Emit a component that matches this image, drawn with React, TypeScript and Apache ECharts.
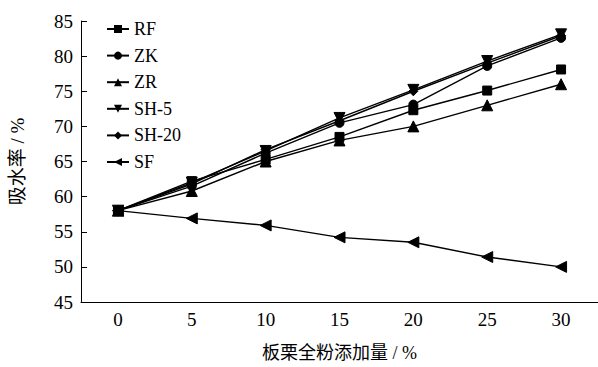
import React, { useEffect, useRef } from "react";
import * as echarts from "echarts";

const categories = ["0", "5", "10", "15", "20", "25", "30"];
const yTicks = { min: 45, max: 85, interval: 5 };
const seriesNames = ["RF", "ZK", "ZR", "SH-5", "SH-20", "SF"];
const rfValues = [58, 62.2, 65.3, 68.5, 72.3, 75.1, 78.1];
const zkValues = [58, 61.5, 66.2, 70.5, 73.1, 78.6, 82.6];
const zrValues = [58, 60.8, 65.0, 68.0, 70.0, 73.0, 76.0];
const sh5Values = [58, 62.0, 66.5, 71.2, 75.2, 79.3, 83.1];
const sh20Values = [58, 61.8, 66.7, 70.8, 75.0, 79.0, 82.9];
const sfValues = [58, 56.9, 55.9, 54.2, 53.5, 51.4, 50.0];

const FONT = "Liberation Serif, Noto Sans CJK SC, serif";

export default function App() {
  const ref = useRef<HTMLDivElement>(null);
  useEffect(() => {
    document.body.style.margin = "0";
    if (!ref.current) return;
    const chart = echarts.init(ref.current, undefined, { renderer: "svg" });
    const values = [rfValues, zkValues, zrValues, sh5Values, sh20Values, sfValues];
    const symbols = [
      { symbol: "rect", size: 9, rotate: 0 },
      { symbol: "circle", size: 9, rotate: 0 },
      { symbol: "triangle", size: 11, rotate: 0 },
      { symbol: "triangle", size: 11, rotate: 180 },
      { symbol: "diamond", size: 9, rotate: 0 },
      { symbol: "triangle", size: 11, rotate: 90 },
    ];
    chart.setOption({
      animation: false,
      backgroundColor: "#fff",
      grid: { left: 81, right: 0, top: 21, bottom: 60 },
      legend: {
        orient: "vertical",
        left: 106,
        top: 20,
        padding: 0,
        itemWidth: 22,
        itemHeight: 10,
        itemGap: 8.6,
        data: seriesNames,
        textStyle: { fontFamily: FONT, fontSize: 18, color: "#000" },
      },
      xAxis: {
        type: "category",
        data: categories,
        boundaryGap: true,
        name: "板栗全粉添加量 / %",
        nameLocation: "middle",
        nameGap: 42,
        nameTextStyle: { fontFamily: FONT, fontSize: 18, color: "#000" },
        axisLine: { lineStyle: { color: "#000", width: 1 } },
        axisTick: { inside: true, length: 6, alignWithLabel: true, lineStyle: { color: "#000" } },
        axisLabel: { fontFamily: FONT, fontSize: 19, color: "#000", margin: 8 },
        splitLine: { show: false },
      },
      yAxis: {
        type: "value",
        min: yTicks.min,
        max: yTicks.max,
        interval: yTicks.interval,
        name: "吸水率 / %",
        nameLocation: "middle",
        nameGap: 54,
        nameTextStyle: { fontFamily: FONT, fontSize: 19, color: "#000" },
        axisLine: { show: true, lineStyle: { color: "#000", width: 1 } },
        axisTick: { show: true, inside: true, length: 6, lineStyle: { color: "#000" } },
        axisLabel: { fontFamily: FONT, fontSize: 19, color: "#000", margin: 8 },
        splitLine: { show: false },
      },
      series: seriesNames.map((name, i) => ({
        name,
        type: "line",
        data: values[i],
        symbol: symbols[i].symbol,
        symbolSize: symbols[i].size,
        symbolRotate: symbols[i].rotate,
        showAllSymbol: true,
        lineStyle: { color: "#000", width: 1.4 },
        itemStyle: { color: "#000", borderColor: "#000" },
        z: 10 - i,
      })),
    });
    return () => chart.dispose();
  }, []);
  return <div ref={ref} style={{ width: 598, height: 367 }} />;
}
